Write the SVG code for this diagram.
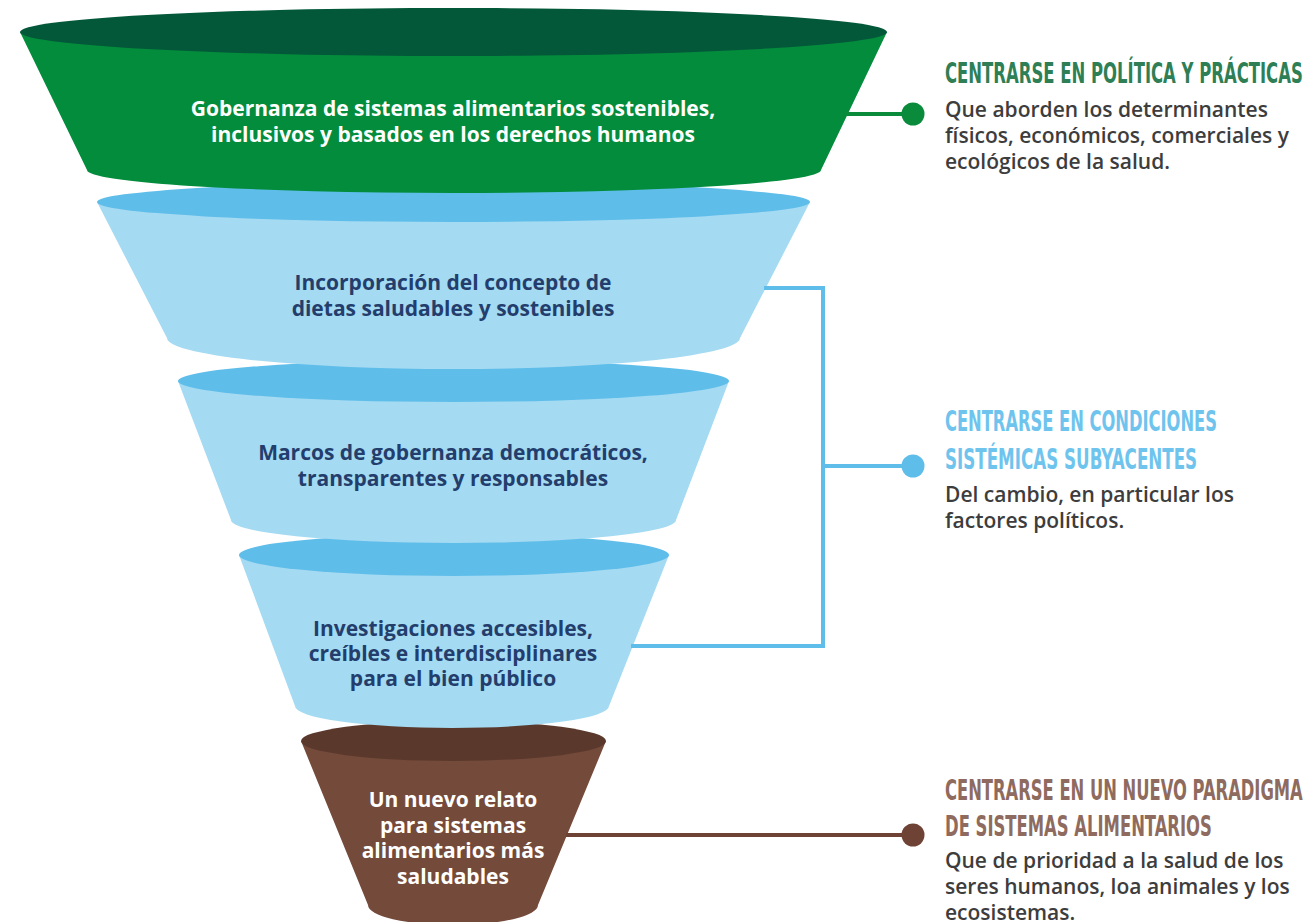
<svg xmlns="http://www.w3.org/2000/svg" width="1311" height="922" viewBox="0 0 1311 922">
  <style>
    .lbl { font-family: "Open Sans", "Noto Sans", "Liberation Sans", sans-serif; font-weight: 700; font-size: 21px; text-anchor: middle; }
    .lbl-w { fill: #ffffff; }
    .lbl-b { fill: #233e6c; }
    .head { font-family: "Liberation Sans Narrow", "DejaVu Sans Condensed", "Liberation Sans", sans-serif; font-weight: 700; font-size: 29px; }
    .body { font-family: "Open Sans", "Noto Sans", "Liberation Sans", sans-serif; font-weight: 600; font-size: 21px; fill: #3d3d3d; }
    .conn { fill: none; stroke-width: 4; }
  </style>
  <rect width="1311" height="922" fill="#ffffff"/>

  <!-- funnel tiers, drawn bottom-up so each upper rim overlaps the one below -->
  <g id="tier-narrative">
    <path d="M301,741 L368,905 A85,20 0 0 0 538,905 L606,741 Z" fill="#744a3b"/>
    <ellipse cx="453.5" cy="741" rx="152.5" ry="20" fill="#5a392c"/>
    <text class="lbl lbl-w" x="453" y="807">Un nuevo relato</text>
    <text class="lbl lbl-w" x="453" y="833">para sistemas</text>
    <text class="lbl lbl-w" x="453" y="858">alimentarios más</text>
    <text class="lbl lbl-w" x="453" y="884">saludables</text>
  </g>

  <g id="tier-research">
    <path d="M239,555 L295,706 A157,22 0 0 0 609,706 L669,555 Z" fill="#a4daf2"/>
    <ellipse cx="454" cy="555" rx="215" ry="21" fill="#5fbdea"/>
    <text class="lbl lbl-b" x="453" y="636">Investigaciones accesibles,</text>
    <text class="lbl lbl-b" x="453" y="661">creíbles e interdisciplinares</text>
    <text class="lbl lbl-b" x="453" y="686">para el bien público</text>
  </g>

  <g id="tier-frameworks">
    <path d="M178,381 L231,520 A222.5,23 0 0 0 676,520 L729,381 Z" fill="#a4daf2"/>
    <ellipse cx="453.5" cy="381" rx="275.5" ry="21" fill="#5fbdea"/>
    <text class="lbl lbl-b" x="453" y="460">Marcos de gobernanza democráticos,</text>
    <text class="lbl lbl-b" x="453" y="486">transparentes y responsables</text>
  </g>

  <g id="tier-diets">
    <path d="M97,202 L167,338 A286.5,31 0 0 0 740,338 L810,202 Z" fill="#a4daf2"/>
    <ellipse cx="453.5" cy="202" rx="356.5" ry="20" fill="#5fbdea"/>
    <text class="lbl lbl-b" x="453" y="290">Incorporación del concepto de</text>
    <text class="lbl lbl-b" x="453" y="316">dietas saludables y sostenibles</text>
  </g>

  <g id="tier-governance">
    <path d="M20,32 L87,170 A367,23 0 0 0 821,170 L887,32 Z" fill="#038c3b"/>
    <ellipse cx="453.5" cy="32" rx="433.5" ry="24" fill="#03583a"/>
    <text class="lbl lbl-w" x="453" y="116">Gobernanza de sistemas alimentarios sostenibles,</text>
    <text class="lbl lbl-w" x="453" y="142">inclusivos y basados en los derechos humanos</text>
  </g>

  <!-- connectors from the tiers to the focus notes -->
  <g id="connectors">
    <line class="conn" x1="846" y1="114" x2="913" y2="114" stroke="#0a8b3c"/>
    <circle cx="913" cy="114" r="11.5" fill="#0a8b3c"/>
    <path class="conn" d="M764,288 H823 V646 H631" stroke="#5fbdea"/>
    <line class="conn" x1="823" y1="466" x2="913" y2="466" stroke="#5fbdea"/>
    <circle cx="913" cy="466" r="11.5" fill="#5fbdea"/>
    <line class="conn" x1="566" y1="835" x2="913" y2="835" stroke="#6e4234"/>
    <circle cx="913" cy="835" r="11.5" fill="#6e4234"/>
  </g>

  <!-- focus notes; headings are squeezed horizontally for a condensed look -->
  <g id="note-policy">
    <text class="head" transform="translate(945,83) scale(0.64,1)" fill="#2f7f56" textLength="559" lengthAdjust="spacingAndGlyphs">CENTRARSE EN POLÍTICA Y PRÁCTICAS</text>
    <text class="body" x="945" y="117">Que aborden los determinantes</text>
    <text class="body" x="945" y="143">físicos, económicos, comerciales y</text>
    <text class="body" x="945" y="169">ecológicos de la salud.</text>
  </g>

  <g id="note-systemic">
    <text class="head" transform="translate(945,431) scale(0.64,1)" fill="#6fc4ee" textLength="425" lengthAdjust="spacingAndGlyphs">CENTRARSE EN CONDICIONES</text>
    <text class="head" transform="translate(945,469) scale(0.64,1)" fill="#6fc4ee" textLength="394" lengthAdjust="spacingAndGlyphs">SISTÉMICAS SUBYACENTES</text>
    <text class="body" x="945" y="502">Del cambio, en particular los</text>
    <text class="body" x="945" y="528">factores políticos.</text>
  </g>

  <g id="note-paradigm">
    <text class="head" transform="translate(945,800) scale(0.64,1)" fill="#8e6b5e" textLength="559" lengthAdjust="spacingAndGlyphs">CENTRARSE EN UN NUEVO PARADIGMA</text>
    <text class="head" transform="translate(945,836) scale(0.64,1)" fill="#8e6b5e" textLength="417" lengthAdjust="spacingAndGlyphs">DE SISTEMAS ALIMENTARIOS</text>
    <text class="body" x="945" y="868">Que de prioridad a la salud de los</text>
    <text class="body" x="945" y="894">seres humanos, loa animales y los</text>
    <text class="body" x="945" y="920">ecosistemas.</text>
  </g>
</svg>
